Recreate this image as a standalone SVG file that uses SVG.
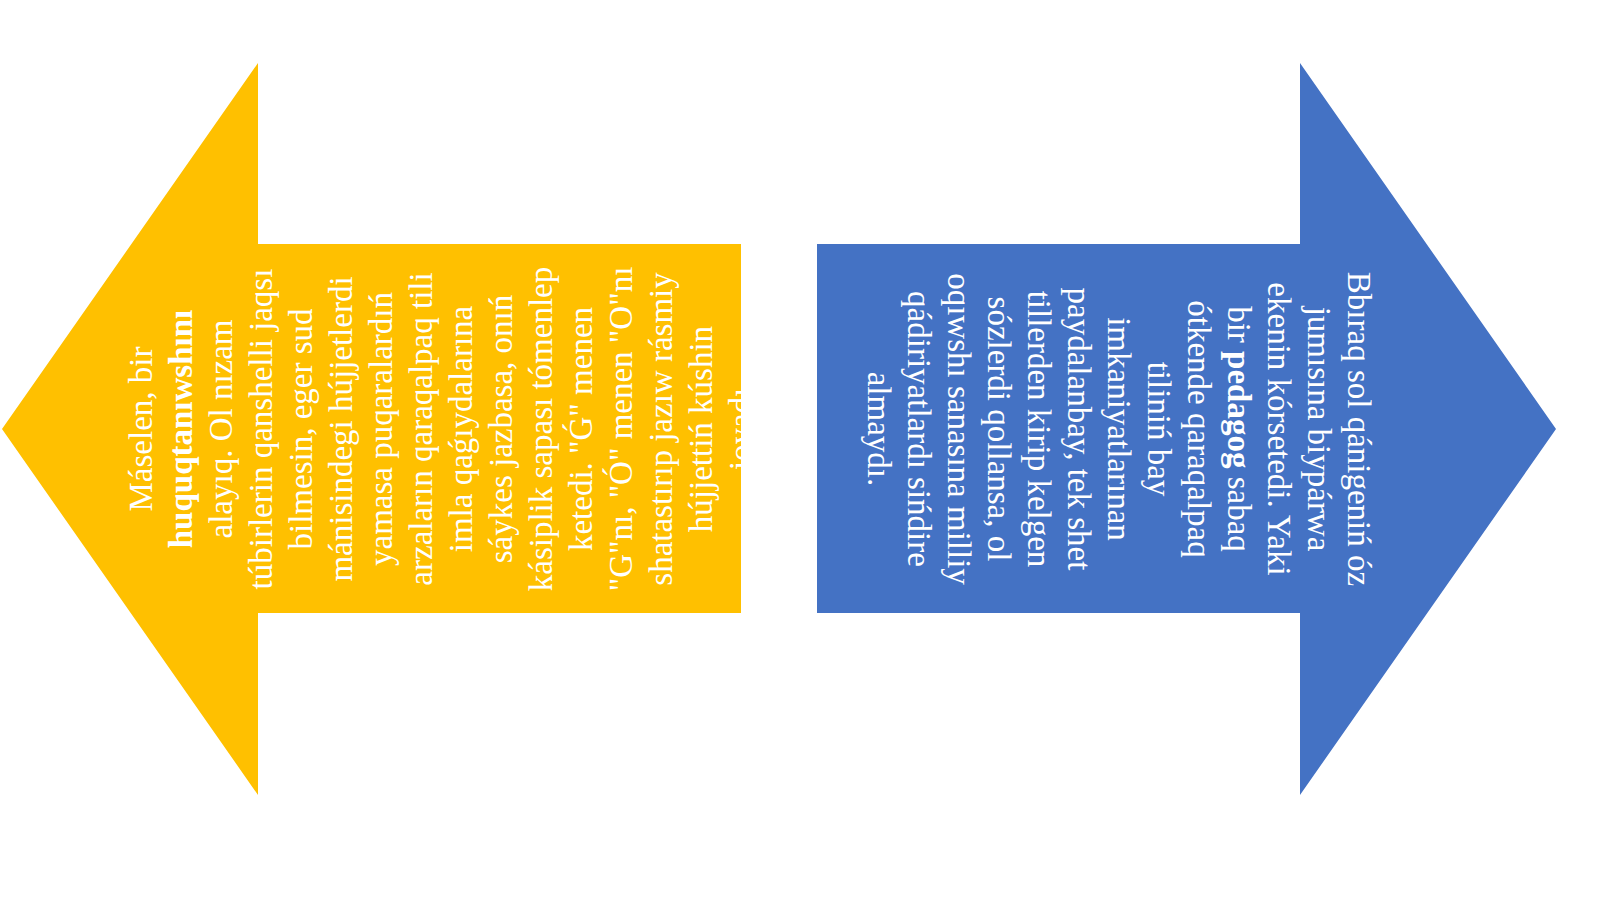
<svg xmlns="http://www.w3.org/2000/svg" width="1600" height="899" viewBox="0 0 1600 899">
  <style>
    .t { font-family: "Liberation Serif", "Times New Roman", serif; font-size: 33px; fill: #FFFFFF; text-anchor: middle; }
    .b { font-weight: bold; }
  </style>
  <defs>
    <clipPath id="clipL"><polygon points="2,429 258,63 258,244 741,244 741,613 258,613 258,795"/></clipPath>
    <clipPath id="clipR"><polygon points="1556,429 1300,63 1300,244 817,244 817,613 1300,613 1300,795"/></clipPath>
  </defs>
  <rect width="1600" height="899" fill="#FFFFFF"/>
  <g id="left-arrow">
    <polygon points="2,429 258,63 258,244 741,244 741,613 258,613 258,795" fill="#FFC000"/>
    <g clip-path="url(#clipL)">
      <text class="t" transform="translate(152,429) rotate(-90)">Máselen, bir</text>
      <text class="t b" transform="translate(192,429) rotate(-90)">huquqtanıwshını</text>
      <text class="t" transform="translate(232,429) rotate(-90)">alayıq. Ol nızam</text>
      <text class="t" transform="translate(272,429) rotate(-90)">túbirlerin qanshelli jaqsı</text>
      <text class="t" transform="translate(312,429) rotate(-90)">bilmesin, eger sud</text>
      <text class="t" transform="translate(352,429) rotate(-90)">mánisindegi hújjetlerdi</text>
      <text class="t" transform="translate(392,429) rotate(-90)">yamasa puqaralardıń</text>
      <text class="t" transform="translate(432,429) rotate(-90)">arzaların qaraqalpaq tili</text>
      <text class="t" transform="translate(472,429) rotate(-90)">imla qaǵıydalarına</text>
      <text class="t" transform="translate(512,429) rotate(-90)">sáykes jazbasa, onıń</text>
      <text class="t" transform="translate(552,429) rotate(-90)">kásiplik sapası tómenlep</text>
      <text class="t" transform="translate(592,429) rotate(-90)">ketedi. "Ǵ" menen</text>
      <text class="t" transform="translate(632,429) rotate(-90)">"G"nı, "Ó" menen "O"nı</text>
      <text class="t" transform="translate(672,429) rotate(-90)">shatastırıp jazıw rásmiy</text>
      <text class="t" transform="translate(712,429) rotate(-90)">hújjettiń kúshin</text>
      <text class="t" transform="translate(752,429) rotate(-90)">joyadı</text>
    </g>
  </g>
  <g id="right-arrow">
    <polygon points="1556,429 1300,63 1300,244 817,244 817,613 1300,613 1300,795" fill="#4472C4"/>
    <g clip-path="url(#clipR)">
      <text class="t" transform="translate(1348,429) rotate(90)">Bbıraq sol qánigeniń óz</text>
      <text class="t" transform="translate(1308,429) rotate(90)">jumısına biypárwa</text>
      <text class="t" transform="translate(1268,429) rotate(90)">ekenin kórsetedi. Yaki</text>
      <text class="t" transform="translate(1228,429) rotate(90)">bir <tspan class="b">pedagog</tspan> sabaq</text>
      <text class="t" transform="translate(1188,429) rotate(90)">ótkende qaraqalpaq</text>
      <text class="t" transform="translate(1148,429) rotate(90)">tiliniń bay</text>
      <text class="t" transform="translate(1108,429) rotate(90)">imkaniyatlarınan</text>
      <text class="t" transform="translate(1068,429) rotate(90)">paydalanbay, tek shet</text>
      <text class="t" transform="translate(1028,429) rotate(90)">tillerden kirip kelgen</text>
      <text class="t" transform="translate(988,429) rotate(90)">sózlerdi qollansa, ol</text>
      <text class="t" transform="translate(948,429) rotate(90)">oqıwshı sanasına milliy</text>
      <text class="t" transform="translate(908,429) rotate(90)">qádiriyatlardı sińdire</text>
      <text class="t" transform="translate(868,429) rotate(90)">almaydı.</text>
    </g>
  </g>
  <g id="connectors"/>
</svg>
